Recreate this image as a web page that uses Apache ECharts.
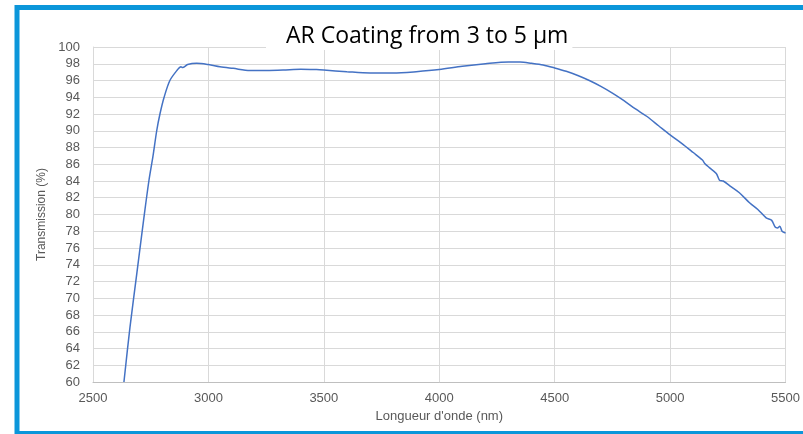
<!DOCTYPE html>
<html>
<head>
<meta charset="utf-8">
<title>AR Coating from 3 to 5 µm</title>
<script src="https://cdn.jsdelivr.net/npm/echarts@6/dist/echarts.min.js"></script>
<style>
  html, body { margin: 0; padding: 0; background: #fff; }
  #chart { width: 803px; height: 434px; }
</style>
</head>
<body>
<div id="chart"></div>
<script>
// wavelength (nm) and transmission (%)
const wavelengths = [
  2634, 2660, 2690, 2720, 2742, 2760, 2776, 2790, 2808, 2833,
  2865, 2881, 2888, 2910, 2949, 3000, 3050, 3107, 3180, 3250,
  3323, 3400, 3468, 3500, 3600, 3700, 3800, 3900, 4000, 4100,
  4200, 4300, 4350, 4400, 4450, 4500, 4550, 4600, 4650, 4700,
  4750, 4800, 4850, 4900, 4950, 5000, 5050, 5100, 5140, 5150,
  5170, 5200, 5214, 5230, 5260, 5300, 5344, 5380, 5416, 5440,
  5455, 5465, 5475, 5485, 5500
]
const transmission = [
  60, 66.5, 73, 79.5, 84, 87, 90, 92, 94, 96,
  97.25, 97.65, 97.55, 97.9, 98.05, 97.9, 97.65, 97.45, 97.2, 97.2,
  97.25, 97.35, 97.3, 97.25, 97.05, 96.9, 96.9, 97.05, 97.3, 97.7,
  98.0, 98.2, 98.2, 98.05, 97.85, 97.5, 97.1, 96.6, 96.0, 95.3,
  94.5, 93.6, 92.6, 91.7, 90.6, 89.5, 88.5, 87.4, 86.5, 86.1,
  85.6, 84.9, 84.1, 84.0, 83.4, 82.6, 81.4, 80.6, 79.6, 79.3,
  78.5, 78.4, 78.6, 78.0, 77.8
]
const xTicks = { min: 2500, max: 5500, step: 500 }
const yTicks = { min: 60, max: 100, step: 2 }

var myChart = echarts.init(document.getElementById('chart'))

var axisFont = 'Liberation Sans, Arial, sans-serif'

var option = {
  animation: false,
  title: {
    text: 'AR Coating from 3 to 5 µm',
    left: 266,
    top: 10,
    padding: [12, 4, 0, 20],
    backgroundColor: '#fff',
    textStyle: {
      fontFamily: 'Open Sans',
      fontSize: 23,
      fontWeight: 'normal',
      lineHeight: 28,
      color: '#000'
    }
  },
  graphic: [
    {
      type: 'rect',
      shape: { x: 17, y: 7.5, width: 900, height: 426 },
      style: { fill: 'none', stroke: '#0b96da', lineWidth: 5 },
      z: 100
    }
  ],
  grid: { left: 93, right: 17, top: 47, bottom: 52 },
  xAxis: {
    type: 'value',
    min: xTicks.min,
    max: xTicks.max,
    interval: xTicks.step,
    name: "Longueur d'onde (nm)",
    nameLocation: 'middle',
    nameGap: 25,
    nameTextStyle: { fontFamily: axisFont, fontSize: 13, color: '#595959' },
    axisLine: { show: true, lineStyle: { color: '#bfbfbf' } },
    axisTick: { show: false },
    axisLabel: {
      fontFamily: axisFont, fontSize: 13, color: '#595959', margin: 10,
      formatter: v => String(v)
    },
    splitLine: { show: true, lineStyle: { color: '#d9d9d9' } }
  },
  yAxis: {
    type: 'value',
    min: yTicks.min,
    max: yTicks.max,
    interval: yTicks.step,
    name: 'Transmission (%)',
    nameLocation: 'middle',
    nameGap: 45,
    nameTextStyle: { fontFamily: axisFont, fontSize: 12, color: '#595959' },
    axisLine: { show: true, lineStyle: { color: '#d9d9d9' } },
    axisTick: { show: false },
    axisLabel: { fontFamily: axisFont, fontSize: 13, color: '#595959', margin: 13 },
    splitLine: { show: true, lineStyle: { color: '#d9d9d9' } }
  },
  series: [
    {
      type: 'line',
      data: wavelengths.map((w, i) => [w, transmission[i]]),
      showSymbol: false,
      smooth: 0.3,
      lineStyle: { color: '#4472c4', width: 1.5 },
      z: 3
    }
  ]
}

myChart.setOption(option)
</script>
</body>
</html>
